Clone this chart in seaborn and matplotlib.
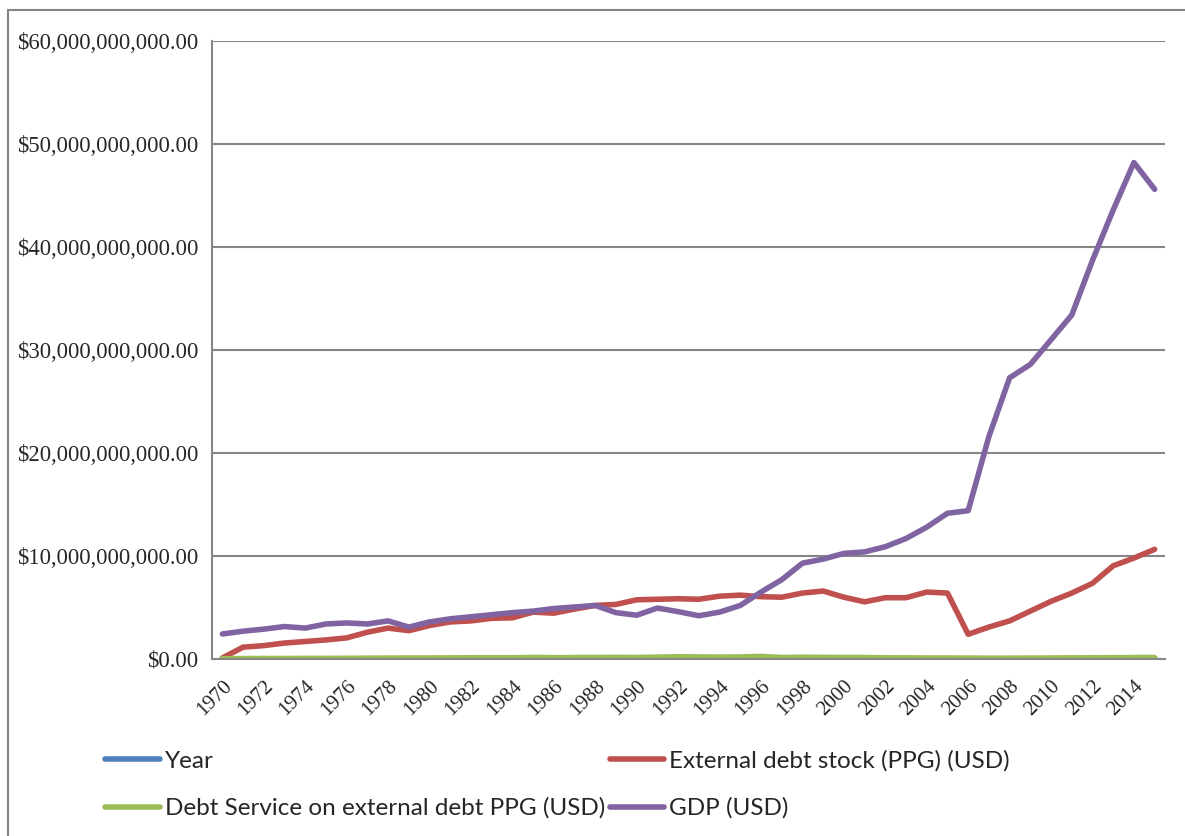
import matplotlib
matplotlib.use("Agg")
import matplotlib.pyplot as plt
from matplotlib.lines import Line2D
from matplotlib.ticker import FuncFormatter, MultipleLocator
import seaborn as sns
import pandas as pd

years = list(range(1970, 2016))

# values in billions of USD
external_debt = [0.1, 1.15, 1.3, 1.55, 1.7, 1.85, 2.05, 2.6, 3.0, 2.75,
                 3.25, 3.6, 3.7, 3.95, 4.0, 4.55, 4.45, 4.85, 5.2, 5.3,
                 5.75, 5.8, 5.85, 5.8, 6.1, 6.2, 6.05, 6.0, 6.4, 6.6,
                 6.0, 5.55, 5.95, 5.95, 6.5, 6.4, 2.4, 3.1, 3.7, 4.65,
                 5.6, 6.4, 7.35, 9.05, 9.8, 10.65]
debt_service = [0.03, 0.04, 0.05, 0.05, 0.06, 0.06, 0.07, 0.08, 0.09, 0.1,
                0.1, 0.11, 0.12, 0.12, 0.12, 0.15, 0.13, 0.14, 0.15, 0.16,
                0.15, 0.18, 0.22, 0.2, 0.18, 0.2, 0.25, 0.15, 0.17, 0.16,
                0.15, 0.14, 0.12, 0.11, 0.1, 0.1, 0.09, 0.08, 0.08, 0.09,
                0.1, 0.11, 0.12, 0.13, 0.14, 0.15]
gdp = [2.43, 2.7, 2.9, 3.15, 3.0, 3.4, 3.5, 3.4, 3.7, 3.1,
       3.6, 3.9, 4.1, 4.3, 4.5, 4.65, 4.9, 5.05, 5.2, 4.5,
       4.25, 4.95, 4.6, 4.2, 4.55, 5.2, 6.5, 7.7, 9.3, 9.7,
       10.25, 10.4, 10.9, 11.7, 12.8, 14.15, 14.4, 21.6, 27.3, 28.6,
       31.0, 33.4, 38.7, 43.6, 48.2, 45.6]

series_names = ["Year", "External debt stock (PPG) (USD)",
                "Debt Service on external debt PPG (USD)", "GDP (USD)"]
colors = ["#4F81BD", "#C0504D", "#9BBB59", "#8064A2"]

frames = [
    pd.DataFrame({"year": years, "value": years, "series": series_names[0]}),
    pd.DataFrame({"year": years, "value": [v * 1e9 for v in external_debt], "series": series_names[1]}),
    pd.DataFrame({"year": years, "value": [v * 1e9 for v in debt_service], "series": series_names[2]}),
    pd.DataFrame({"year": years, "value": [v * 1e9 for v in gdp], "series": series_names[3]}),
]
df = pd.concat(frames, ignore_index=True)

sns.set_style("white")
plt.rcParams["font.family"] = ["Liberation Serif", "DejaVu Serif"]

fig = plt.figure(figsize=(11.85, 8.36), dpi=100)
ax = fig.add_axes([212 / 1185, 1 - 659 / 836, 953 / 1185, 618 / 836])

sns.lineplot(data=df, x="year", y="value", hue="series", hue_order=series_names,
             palette=colors, linewidth=4, legend=False, sort=False, ax=ax,
             solid_capstyle="round", solid_joinstyle="round")

grey = "#868686"
ax.set_xlim(1969.5, 2015.5)
ax.set_ylim(0, 60e9)
ax.yaxis.set_major_locator(MultipleLocator(10e9))
ax.yaxis.set_major_formatter(FuncFormatter(lambda v, p: "${:,.2f}".format(v)))
ax.grid(axis="y", color=grey, linewidth=1.5)
ax.set_axisbelow(True)

ax.set_xticks(years[::2])
ax.set_xticklabels([str(y) for y in years[::2]], rotation=45, ha="right",
                   rotation_mode="anchor", fontsize=15)
ax.set_xticks([y - 0.5 for y in years] + [2015.5], minor=True)
ax.tick_params(axis="x", which="major", length=0, pad=13)
ax.tick_params(axis="x", which="minor", length=6, width=1.3, color=grey, direction="out")
ax.tick_params(axis="y", length=6, width=1.3, color=grey, direction="out", labelsize=16.3, pad=4)
ax.set_xlabel("")
ax.set_ylabel("")

for side in ["top", "right"]:
    ax.spines[side].set_visible(False)
for side in ["left", "bottom"]:
    ax.spines[side].set_color(grey)
    ax.spines[side].set_linewidth(1.5)

# outer chart border (left and top only visible)
fig.add_artist(Line2D([8 / 1185, 8 / 1185], [0, 1 - 10 / 836], color=grey, lw=1.5))
fig.add_artist(Line2D([8 / 1185, 1], [1 - 10 / 836, 1 - 10 / 836], color=grey, lw=1.5))

handles = [Line2D([], [], color=c, lw=4, solid_capstyle="round") for c in colors]
order = [0, 2, 1, 3]
fig.legend([handles[i] for i in order], [series_names[i] for i in order],
           ncol=2, loc="upper left", bbox_to_anchor=(105 / 1185, 1 - 750 / 836),
           frameon=False, borderpad=0, borderaxespad=0,
           handlelength=2.25, handletextpad=0.2, columnspacing=0.2, labelspacing=1.07,
           prop={"family": ["Lato", "DejaVu Sans"], "size": 17.5})

fig.savefig("out.png", dpi=100)
